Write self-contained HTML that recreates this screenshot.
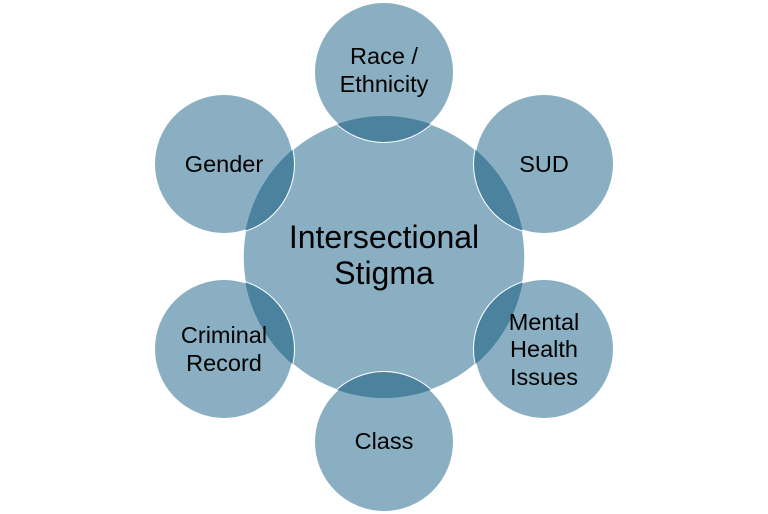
<!DOCTYPE html>
<html><head><meta charset="utf-8"><style>
html,body{margin:0;padding:0;background:#fff;}
svg{display:block}
text{font-family:"Liberation Sans",sans-serif;fill:#000;text-anchor:middle}
</style></head><body>
<svg width="768" height="514" viewBox="0 0 768 514">
<defs><clipPath id="c"><circle cx="384" cy="257" r="141"/></clipPath></defs>
<circle cx="384" cy="257" r="141" fill="#8aafc2" stroke="#fff" stroke-width="1.5"/>
<g fill="#8aafc2" stroke="#fff" stroke-width="2">
<circle cx="384" cy="72" r="70"/>
<circle cx="544" cy="164" r="70"/>
<circle cx="544" cy="349" r="70"/>
<circle cx="384" cy="442" r="70"/>
<circle cx="224" cy="349" r="70"/>
<circle cx="224" cy="164" r="70"/>
</g>
<g fill="#4b839e" clip-path="url(#c)">
<circle cx="384" cy="72" r="70"/>
<circle cx="544" cy="164" r="70"/>
<circle cx="544" cy="349" r="70"/>
<circle cx="384" cy="442" r="70"/>
<circle cx="224" cy="349" r="70"/>
<circle cx="224" cy="164" r="70"/>
</g>
<g font-size="23.5">
<text x="384" y="64">Race /</text>
<text x="384" y="92">Ethnicity</text>
<text x="544" y="172">SUD</text>
<text x="544" y="330">Mental</text>
<text x="544" y="357">Health</text>
<text x="544" y="385">Issues</text>
<text x="384" y="449">Class</text>
<text x="224" y="343">Criminal</text>
<text x="224" y="371">Record</text>
<text x="224" y="172">Gender</text>
</g>
<g font-size="32">
<text x="384" y="248">Intersectional</text>
<text x="384" y="284">Stigma</text>
</g>
</svg>
</body></html>
